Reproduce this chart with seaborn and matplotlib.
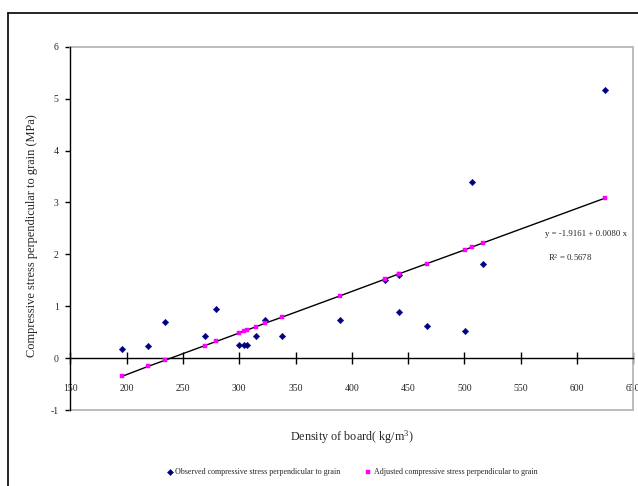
import matplotlib
matplotlib.use("Agg")
import matplotlib.pyplot as plt
from matplotlib.lines import Line2D
import seaborn as sns
import pandas as pd

# ---- data ----
density = [196.2, 219.0, 234.3, 269.3, 279.6, 299.5, 303.9, 306.8, 314.5, 322.8,
           338.2, 389.6, 429.3, 441.5, 441.5, 466.6, 500.9, 506.8, 516.6, 624.6]
observed = [0.17, 0.23, 0.70, 0.43, 0.95, 0.26, 0.26, 0.25, 0.43, 0.73,
            0.43, 0.73, 1.51, 1.61, 0.89, 0.61, 0.52, 3.40, 1.82, 5.16]
adjusted = [-0.35, -0.16, -0.04, 0.24, 0.32, 0.48, 0.52, 0.54, 0.60, 0.67,
            0.79, 1.20, 1.52, 1.62, 1.62, 1.82, 2.09, 2.14, 2.22, 3.08]
x_ticks = [150, 200, 250, 300, 350, 400, 450, 500, 550, 600, 650]
y_ticks = [-1, 0, 1, 2, 3, 4, 5, 6]
label_obs = "Observed compressive stress perpendicular to grain"
label_adj = "Adjusted compressive stress perpendicular to grain"
eq_text = "y = -1.9161 + 0.0080 x"
r2_text = r"R$^{2}$ = 0.5678"

df = pd.DataFrame({"density": density, "observed": observed, "adjusted": adjusted})

sns.set_style("white")
plt.rcParams["font.family"] = ["Liberation Serif", "DejaVu Serif"]
plt.rcParams["mathtext.fontset"] = "custom"
plt.rcParams["mathtext.rm"] = "Liberation Serif"
plt.rcParams["mathtext.it"] = "Liberation Serif"
plt.rcParams["mathtext.default"] = "regular"

fig = plt.figure(figsize=(6.38, 4.86), dpi=100)
ax = fig.add_axes([70.3 / 638, 1 - 410 / 486, (633.3 - 70.3) / 638, (410 - 46.7) / 486])

sns.lineplot(data=df, x="density", y="adjusted", ax=ax, color="black", lw=1.0,
             estimator=None, sort=True, legend=False, zorder=2)
sns.scatterplot(data=df, x="density", y="observed", ax=ax, marker="D", s=11,
                color="#000080", edgecolor="#000080", linewidth=0.3,
                label=label_obs, zorder=3)
sns.scatterplot(data=df, x="density", y="adjusted", ax=ax, marker="s", s=10,
                color="#ff00ff", edgecolor="#ff00ff", linewidth=0.3,
                label=label_adj, zorder=3)

ax.set_xlim(150, 650)
ax.set_ylim(-1, 6)
ax.set_xticks(x_ticks)
ax.set_yticks(y_ticks)
ax.set_xticklabels([str(v) for v in x_ticks])
ax.set_yticklabels([str(v) for v in y_ticks])

gray = "#b8b8b8"
ax.spines["bottom"].set_position(("data", 0))
ax.spines["bottom"].set_color("black")
ax.spines["bottom"].set_linewidth(1.0)
ax.spines["left"].set_color("black")
ax.spines["left"].set_linewidth(1.0)
ax.spines["left"].set_zorder(5)
for s in ("top", "right"):
    ax.spines[s].set_color(gray)
    ax.spines[s].set_linewidth(1.3)
ax.axhline(-1, color=gray, lw=1.3, clip_on=False, zorder=1)

ax.tick_params(axis="x", direction="inout", length=8.5, width=1.0, color="black",
               pad=14.5, labelsize=7, bottom=True)
ax.tick_params(axis="y", direction="out", length=3.3, width=1.0, color="black",
               pad=5, labelsize=7, left=True)

ax.set_xlabel(r"Density of board( kg/m$^{3}$)", fontsize=8.7, labelpad=0)
ax.set_ylabel("Compressive stress perpendicular to grain (MPa)", fontsize=8.9)
ax.xaxis.set_label_coords(0.5, -0.052)
ax.yaxis.set_label_coords(-0.057, 0.48)

ax.text(571.3, 2.387, eq_text, fontsize=6.3, color="#222222", va="center", ha="left")
ax.text(573.9, 1.94, r2_text, fontsize=6.3, color="#222222", va="center", ha="left")

leg = ax.legend(loc="center", bbox_to_anchor=(352 / 638, 1 - 472 / 486),
                bbox_transform=fig.transFigure, ncol=2, frameon=False,
                fontsize=5.8, handletextpad=0.3, columnspacing=3.0,
                handlelength=0.8, markerscale=0.95)

# outer chart frame
fig.add_artist(Line2D([8 / 638, 1.0], [1 - 12.7 / 486, 1 - 12.7 / 486],
                      transform=fig.transFigure, color="black", lw=1.2))
fig.add_artist(Line2D([8 / 638, 8 / 638], [0.0, 1 - 12.7 / 486],
                      transform=fig.transFigure, color="black", lw=1.2))

fig.savefig("out.png", dpi=100)
